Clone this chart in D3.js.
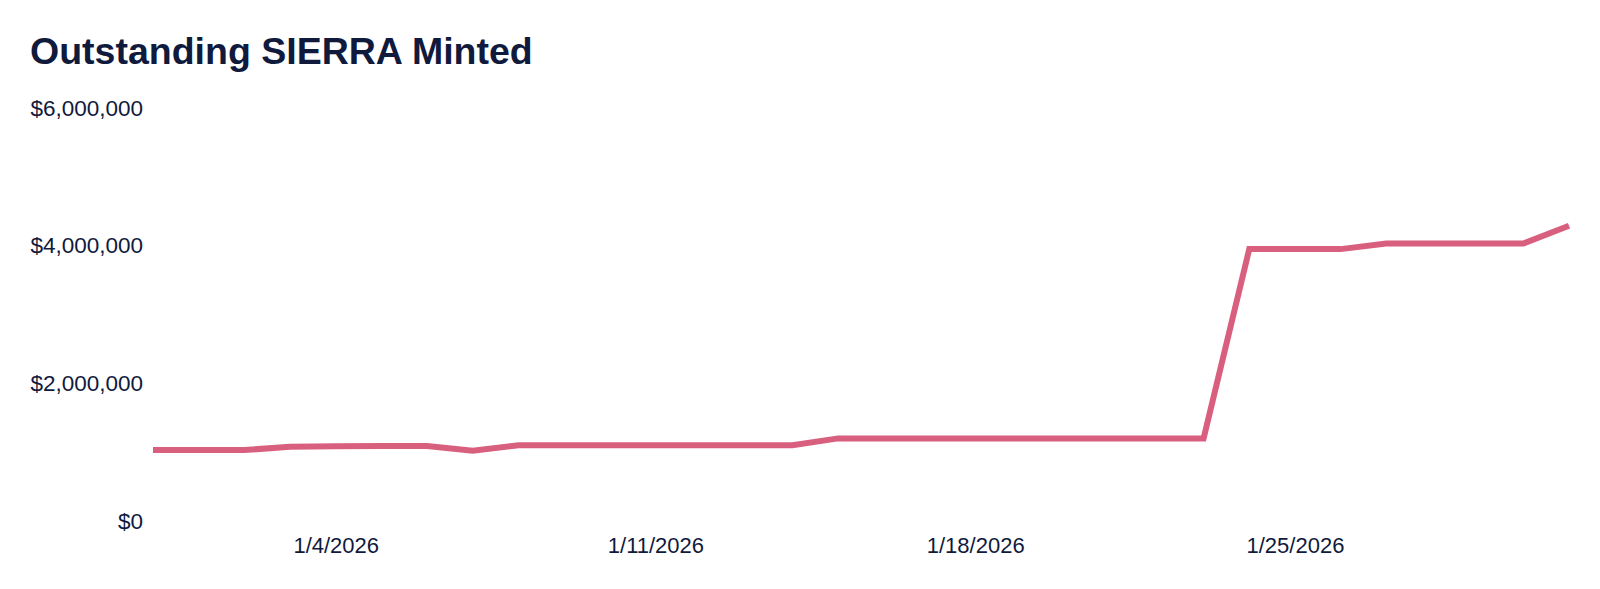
<!DOCTYPE html>
<html>
<head>
<meta charset="utf-8">
<script src="https://cdn.jsdelivr.net/npm/d3@7"></script>
<style>
  html, body { margin: 0; padding: 0; background: #ffffff; }
  svg { display: block; }
</style>
</head>
<body>
<svg id="chart" width="1600" height="589"></svg>
<script>
const title = "Outstanding SIERRA Minted";
const dates = [
  "2025-12-31","2026-01-01","2026-01-02","2026-01-03","2026-01-04","2026-01-05","2026-01-06","2026-01-07",
  "2026-01-08","2026-01-09","2026-01-10","2026-01-11","2026-01-12","2026-01-13","2026-01-14","2026-01-15",
  "2026-01-16","2026-01-17","2026-01-18","2026-01-19","2026-01-20","2026-01-21","2026-01-22","2026-01-23",
  "2026-01-24","2026-01-25","2026-01-26","2026-01-27","2026-01-28","2026-01-29","2026-01-30","2026-01-31"
];
const values = [
  1030000, 1030000, 1030000, 1080000, 1085000, 1090000, 1090000, 1020000,
  1100000, 1100000, 1100000, 1100000, 1100000, 1100000, 1100000, 1200000,
  1200000, 1200000, 1200000, 1200000, 1200000, 1200000, 1200000, 1200000,
  3950000, 3950000, 3950000, 4030000, 4030000, 4030000, 4030000, 4290000
];
const yTicks = [0, 2000000, 4000000, 6000000];
const xTickDates = ["2026-01-04", "2026-01-11", "2026-01-18", "2026-01-25"];

const parse = d3.timeParse("%Y-%m-%d");
const data = dates.map((d, i) => ({ date: parse(d), value: values[i] }));

const svg = d3.select("#chart");
const textColor = "#101a3d";
const lineColor = "#d95f7f";

const x = d3.scaleTime()
  .domain(d3.extent(data, d => d.date))
  .range([153, 1569]);
const y = d3.scaleLinear()
  .domain([0, 6000000])
  .range([521, 108]);

svg.append("text")
  .attr("x", 30)
  .attr("y", 64)
  .attr("font-family", "'Liberation Sans', Arial, sans-serif")
  .attr("font-weight", "bold")
  .attr("font-size", 37.5)
  .attr("fill", textColor)
  .text(title);

const fmt = d3.format("$,");
const yAxis = d3.axisLeft(y).tickValues(yTicks).tickFormat(d => fmt(d)).tickSize(0).tickPadding(0);
const gy = svg.append("g").attr("transform", "translate(143,0)").call(yAxis);
gy.select(".domain").remove();
gy.selectAll("text")
  .attr("font-family", "'Liberation Sans', Arial, sans-serif")
  .attr("font-size", 22.5)
  .attr("fill", textColor);

const xFmt = d3.timeFormat("%-m/%-d/%Y");
const xAxis = d3.axisBottom(x).tickValues(xTickDates.map(parse)).tickFormat(xFmt).tickSize(0).tickPadding(0);
const gx = svg.append("g").attr("transform", "translate(0,537)").call(xAxis);
gx.select(".domain").remove();
gx.selectAll("text")
  .attr("font-family", "'Liberation Sans', Arial, sans-serif")
  .attr("font-size", 22)
  .attr("fill", textColor);

const line = d3.line().x(d => x(d.date)).y(d => y(d.value));
svg.append("path")
  .datum(data)
  .attr("d", line)
  .attr("fill", "none")
  .attr("stroke", lineColor)
  .attr("stroke-width", 6)
  .attr("stroke-linejoin", "miter");
</script>
</body>
</html>
